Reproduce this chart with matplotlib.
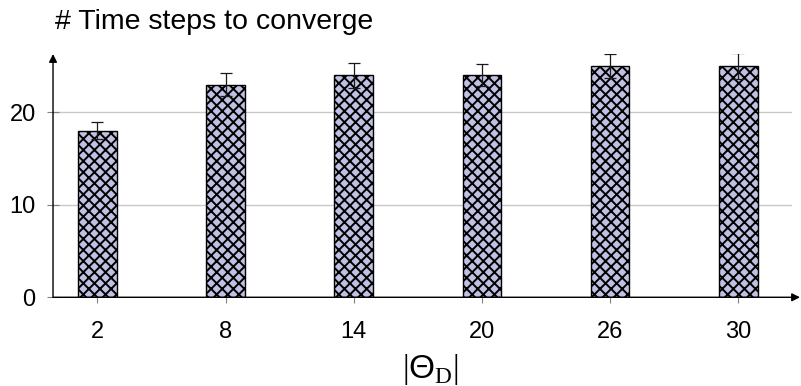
import matplotlib
matplotlib.use('Agg')
import matplotlib.pyplot as plt
import numpy as np

# data
sizes = ['2', '8', '14', '20', '26', '30']
steps = [18, 23, 24, 24, 25, 25]
step_err = [0.9, 1.2, 1.35, 1.2, 1.27, 1.45]

BAR_FILL = '#c0c0e2'
GRID = '#c8c8c8'
TICK = '#808080'

plt.rcParams['font.family'] = ['Liberation Sans', 'DejaVu Sans']
plt.rcParams['mathtext.fontset'] = 'custom'
plt.rcParams['mathtext.rm'] = 'Liberation Serif'
plt.rcParams['mathtext.sf'] = 'Liberation Sans'
plt.rcParams['hatch.linewidth'] = 1.4

fig = plt.figure(figsize=(8.01, 3.86), dpi=100)
ax = fig.add_axes([0.0662, 0.2298, 0.9226, 0.6303])

x = np.arange(len(sizes))
ax.bar(x, steps, width=0.3, color=BAR_FILL, edgecolor='black',
       linewidth=1.0, hatch='xxx', zorder=2)
ax.errorbar(x, steps, yerr=step_err, fmt='none', ecolor='#1a1a1a',
            elinewidth=0.9, capsize=4, capthick=0.9, zorder=3)

ax.set_xlim(-0.3456, 5.419)
ax.set_ylim(0, 26.3)

ax.set_xticks(x)
ax.set_xticklabels(sizes)
ax.set_yticks([0, 10, 20])
ax.tick_params(axis='x', direction='out', length=4, width=0.8, color=TICK,
               labelsize=17, pad=13)
ax.tick_params(axis='y', direction='inout', length=9, width=0.8, color=TICK,
               labelsize=17, pad=8)

ax.yaxis.grid(True, color=GRID, linewidth=1.0, zorder=0)
ax.set_axisbelow(True)

for s in ['top', 'right', 'left', 'bottom']:
    ax.spines[s].set_visible(False)

# axis lines with arrow heads
ax.annotate('', xy=(0, 1.0), xytext=(0, 0), xycoords='axes fraction',
            arrowprops=dict(arrowstyle='-|>', color='black', lw=1.0,
                            mutation_scale=12, shrinkA=0, shrinkB=0), zorder=4)
ax.annotate('', xy=(1.0108, 0), xytext=(0, 0), xycoords='axes fraction',
            arrowprops=dict(arrowstyle='-|>', color='black', lw=1.0,
                            mutation_scale=12, shrinkA=0, shrinkB=0), zorder=4)

fig.text(0.0687, 0.943, '# Time steps to converge', fontsize=20.5,
         ha='left', va='center')
fig.text(0.538, 0.043, r'$|\mathsf{\Theta}_{\mathrm{D}}|$', fontsize=24,
         ha='center', va='center')

fig.savefig('out.png', dpi=100)
